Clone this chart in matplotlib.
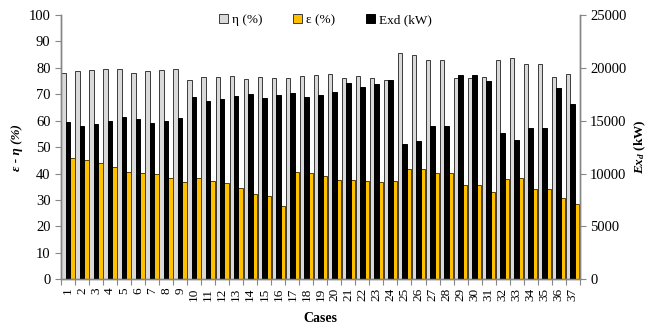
import numpy as np
import matplotlib
matplotlib.use("Agg")
import matplotlib.pyplot as plt
from matplotlib.patches import Patch

plt.rcParams['font.family'] = ['Liberation Serif', 'DejaVu Serif']
plt.rcParams['mathtext.fontset'] = 'custom'
plt.rcParams['mathtext.rm'] = 'Liberation Serif:bold'
plt.rcParams['mathtext.it'] = 'Liberation Serif:italic:bold'
plt.rcParams['mathtext.bf'] = 'Liberation Serif:bold'

# data
cases = list(range(1, 38))
eta = [78.2, 78.8, 79.2, 79.6, 79.6, 78.2, 78.8, 79.2, 79.6, 75.4,
       76.5, 76.5, 76.8, 75.7, 76.5, 76.0, 76.0, 76.8, 77.2, 77.7,
       76.2, 76.9, 76.2, 75.4, 85.5, 85.0, 83.1, 83.1, 76.2, 76.2,
       76.7, 83.1, 83.9, 81.6, 81.6, 76.7, 77.7]
eps = [45.8, 45.0, 43.9, 42.4, 40.7, 40.1, 39.7, 38.2, 36.7, 38.2,
       37.3, 36.3, 34.7, 32.4, 31.5, 27.7, 40.5, 40.1, 39.1, 37.5,
       37.5, 37.1, 36.7, 37.1, 41.9, 41.6, 40.1, 40.1, 35.6, 35.6,
       32.9, 37.8, 38.2, 34.0, 34.0, 30.6, 28.5]
exd = [14850, 14530, 14690, 14940, 15350, 15160, 14750, 14940, 15260, 17220,
       16870, 17060, 17340, 17530, 17150, 17430, 17620, 17240, 17430, 17720,
       18570, 18190, 18470, 18850, 12800, 13110, 14500, 14500, 19300, 19300,
       18760, 13810, 13210, 14280, 14280, 18050, 16580]

x = np.array(cases)
w = 0.32
grey = '#d9d9d9'
gold = '#ffc000'
axcol = '#868686'

fig, ax = plt.subplots(figsize=(6.47, 3.26), dpi=100)
fig.subplots_adjust(left=0.0943, right=0.896, bottom=0.1433, top=0.954)

ax.bar(x - w, eta, w, color=grey, edgecolor='#3a3a3a', linewidth=0.7, zorder=2)
ax.bar(x + w, eps, w, color=gold, edgecolor='#5a4300', linewidth=0.7, zorder=2)

ax2 = ax.twinx()
ax2.bar(x, exd, w, color='black', edgecolor='black', linewidth=0.7, zorder=2)

ax.set_xlim(0.5, 37.5)
ax.set_ylim(0, 100)
ax2.set_ylim(0, 25000)
ax.set_yticks(np.arange(0, 101, 10))
ax2.set_yticks(np.arange(0, 25001, 5000))

ax.set_xticks(x)
ax.set_xticklabels([str(c) for c in cases], rotation=90, fontsize=9.5)
ax.set_xticks(np.arange(0.5, 38, 1), minor=True)
ax.tick_params(axis='x', which='major', length=0, pad=6)
ax.tick_params(axis='x', which='minor', length=4, color=axcol, width=0.8)
ax.tick_params(axis='y', length=4, color=axcol, width=0.8, labelsize=10.5)
ax2.tick_params(axis='y', length=4, color=axcol, width=0.8, labelsize=10.5)

for a in (ax, ax2):
    a.spines['top'].set_visible(False)
    for s in ('left', 'right', 'bottom'):
        a.spines[s].set_color(axcol)
        a.spines[s].set_linewidth(1.0)

ax.set_ylabel('ε - η (%)', fontsize=9.5, fontweight='bold', fontstyle='italic', labelpad=4)
ax2.set_ylabel(r'$Ex_d$ (kW)', fontsize=9.5, fontweight='bold', labelpad=4)
ax.set_xlabel('Cases', fontsize=10, fontweight='bold', labelpad=8)

handles = [Patch(facecolor=grey, edgecolor='#3a3a3a', linewidth=0.7),
           Patch(facecolor=gold, edgecolor='#3a3a3a', linewidth=0.7),
           Patch(facecolor='black', edgecolor='black', linewidth=0.7)]
ax.legend(handles, ['η (%)', 'ε (%)', 'Exd (kW)'], ncol=3, frameon=False,
          loc='upper center', bbox_to_anchor=(0.51, 1.05), fontsize=9.5,
          handlelength=0.7, handleheight=0.7, handletextpad=0.3, columnspacing=2.3)

fig.savefig('out.png', dpi=100)
